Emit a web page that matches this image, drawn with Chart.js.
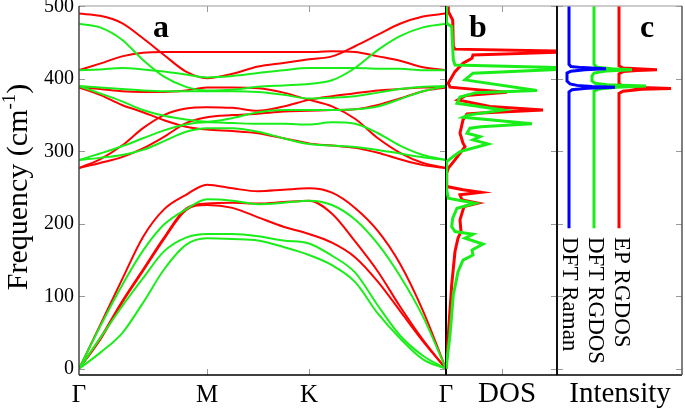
<!DOCTYPE html>
<html>
<head>
<meta charset="utf-8">
<script src="https://cdn.jsdelivr.net/npm/chart.js@4.4.1/dist/chart.umd.min.js"></script>
<style>
html,body{margin:0;padding:0;background:#fff;}
#wrap{position:relative;width:685px;height:410px;overflow:hidden;background:#fff;}
canvas{position:absolute;top:0;}
</style>
</head>
<body>
<div id="wrap">
<canvas id="ca" width="460" height="410" style="left:0px;width:460px;height:410px"></canvas>
<canvas id="cb" width="125" height="410" style="left:440px;width:125px;height:410px"></canvas>
<canvas id="cc" width="135" height="410" style="left:550px;width:135px;height:410px"></canvas>
</div>
<script>
// ---------- panel a: phonon dispersion ----------
const kLabels = ['Γ', 'M', 'K', 'Γ'];
const kPos = [0, 128, 230, 367];
const kPath = [0, 21, 43, 64, 85, 107, 128, 153.5, 179, 204.5, 230, 253, 276, 299, 321, 344, 367];
const freqTicks = [0, 100, 200, 300, 400, 500];

// DFT bands (green)
const dft1 = [0, 22, 49, 91, 137, 171, 180, 179, 177, 168, 157, 143, 120, 76, 42, 13, 0];
const dft2 = [0, 42, 86, 125, 162, 181, 186, 186, 183, 177, 173, 156, 133, 87, 46, 18, 0];
const dft3 = [0, 58, 115, 163, 199, 220, 234, 232, 227, 229, 232, 226, 206, 172, 128, 72, 0];
const dft4 = [288, 291, 295, 302, 314, 327, 332, 332, 327, 318, 310, 308, 306, 302, 297, 292, 288];
const dft5 = [288, 297, 307, 318, 329, 337, 340, 339, 338, 338, 337, 340, 338, 325, 308, 295, 288];
const dft6 = [390, 380, 369, 357, 349, 344, 341, 346, 354, 357, 357, 357, 358, 362, 372, 383, 390];
const dft7 = [390, 388, 386, 384, 383, 383, 383, 383, 382, 378, 373, 374, 376, 381, 386, 389, 390];
const dft8 = [412, 413, 415, 413, 410, 406, 402, 404, 408, 412, 415, 415, 415, 414, 414, 412, 412];
const dft9 = [476, 471, 454, 426, 403, 389, 384, 385, 389, 391, 393, 398, 415, 440, 459, 471, 476];

// EP bands (red)
const ep1 = [0, 40, 91, 135, 179, 219, 226, 222, 209, 196, 186, 174, 154, 120, 80, 38, 0];
const ep2 = [0, 42, 93, 137, 181, 221, 228, 229, 228, 230, 232, 214, 176, 134, 86, 40, 0];
const ep3 = [0, 60, 123, 182, 220, 240, 254, 249, 245, 247, 249, 243, 222, 190, 145, 80, 0];
const ep4 = [277, 289, 308, 332, 350, 359, 361, 360, 356, 362, 371, 376, 380, 384, 386, 388, 388];
const ep5 = [277, 284, 292, 304, 320, 339, 347, 350, 352, 355, 356, 357, 358, 364, 373, 383, 388];
const ep6 = [388, 378, 364, 354, 343, 334, 330, 328, 325, 318, 311, 308, 305, 298, 289, 281, 277];
const ep7 = [388, 386, 383, 382, 382, 384, 388, 388, 387, 381, 371, 362, 345, 318, 298, 284, 277];
const ep8 = [412, 421, 431, 436, 437, 437, 437, 437, 437, 437, 437, 438, 437, 431, 425, 416, 412];
const ep9 = [490, 487, 477, 456, 433, 410, 401, 407, 417, 422, 427, 431, 445, 461, 476, 486, 490];

// ---------- panel b: DOS ----------
const epDosFreq = [500, 493, 481, 445, 441, 438.5, 436.5, 433, 428.5, 421.6, 410, 394, 388.5, 384.8, 381.6, 377, 371, 361.8, 357.2, 353, 351.7, 343.4, 325, 311.3, 306.6, 288.3, 276.8, 270, 251.5, 247, 243.5, 240, 233, 228.5, 224, 214.8, 205.5, 189.4, 180.3, 161.8, 115.9, 46.9, 0];
const epDosVal  = [2, 2.3, 6.7, 7.3, 9, 109, 109, 27, 26, 17, 9, 2.3, 4, 34, 61, 20, 12, 44, 97, 35, 21, 17, 14, 17, 19, 9, 2.3, 0.7, 0.7, 17, 35, 14, 16, 32, 18, 16, 14, 15, 12, 9, 5.7, 2.3, 0];
const dftDosFreq = [500, 476.8, 472, 426, 419, 415.6, 413, 407.8, 398.6, 384, 381, 375, 366.4, 357, 350, 347, 338, 334, 332, 325, 320.4, 315.9, 310.3, 299.7, 292.8, 286, 260.7, 249, 235.4, 228.5, 221.6, 207.8, 196.3, 189.4, 185.7, 180.3, 172, 164, 157, 150, 134, 102, 47, 0];
const dftDosVal  = [0.5, 0.5, 5.7, 7.3, 9, 111, 111, 27, 19, 91, 30, 14, 11, 57, 22, 17, 86, 35, 24, 21, 34, 27, 42, 14, 7.3, 0.7, 0, 0.7, 2.3, 29, 11, 6.7, 5.7, 9, 27, 19, 37, 26, 27, 17, 12, 7.3, 4, 0];

// ---------- panel c: intensity spectra (offset baselines) ----------
const ramanFreq = [500, 420, 417, 415.5, 414, 412.5, 410.5, 408, 397, 393, 391, 389.5, 388.5, 387, 385, 382, 194];
const ramanVal  = [12, 12, 14, 25, 49, 28, 14, 10, 10, 13, 20, 35, 58, 30, 15, 12, 12];
const dftRgFreq = [500, 420, 416, 414, 412.5, 411, 408, 404, 397, 394, 392, 390, 388.5, 386, 383, 194];
const dftRgVal  = [37, 37, 40, 55, 75, 50, 37, 35, 35, 38, 50, 89, 60, 42, 37, 37];
const epRgFreq  = [500, 418, 415, 413.5, 412.5, 411.5, 410, 407, 393, 390, 388, 386.7, 385.5, 383, 380, 194];
const epRgVal   = [62, 62, 66, 85, 100, 80, 66, 62, 62, 66, 85, 114, 85, 66, 62, 62];
const legendNames = ['DFT Raman', 'DFT RGDOS', 'EP RGDOS'];

const RED = '#ff0000', GREEN = '#1aee1a', BLUE = '#0000ff';
const SERIF = '"Liberation Serif", "Times New Roman", serif';
const Y_MIN = -8.5, Y_MAX = 500.5;

const framePlugin = {
  id: 'frame',
  afterDatasetsDraw(chart, args, o) {
    const ctx = chart.ctx, a = chart.chartArea;
    const xs = chart.scales.x, ys = chart.scales.y;
    ctx.save();
    ctx.strokeStyle = o.tickColor || '#999';
    ctx.lineWidth = 1;
    const L = o.len || 6;
    const seg = (x1, y1, x2, y2) => { ctx.beginPath(); ctx.moveTo(x1, y1); ctx.lineTo(x2, y2); ctx.stroke(); };
    (o.yTicks || []).forEach(v => {
      const p = Math.round(ys.getPixelForValue(v)) + 0.5;
      if (o.yLeft) seg(a.left, p, a.left + L, p);
      if (o.yRight) seg(a.right - L, p, a.right, p);
    });
    (o.xTicks || []).forEach(v => {
      const p = Math.round(xs.getPixelForValue(v)) + 0.5;
      seg(p, a.top, p, a.top + L);
      seg(p, a.bottom - L, p, a.bottom);
    });
    const side = (s, x1, y1, x2, y2) => {
      if (!o[s]) return;
      ctx.strokeStyle = o[s].c; ctx.lineWidth = o[s].w;
      seg(x1, y1, x2, y2);
    };
    side('top', a.left, a.top, a.right, a.top);
    side('bottom', a.left, a.bottom, a.right, a.bottom);
    side('left', a.left, a.top, a.left, a.bottom);
    side('right', a.right, a.top, a.right, a.bottom);
    ctx.restore();
  }
};

const textPlugin = {
  id: 'texts',
  afterDraw(chart, args, o) {
    const ctx = chart.ctx;
    (o.items || []).forEach(it => {
      ctx.save();
      ctx.translate(it.x, it.y);
      if (it.rot) ctx.rotate(it.rot);
      ctx.fillStyle = '#000';
      ctx.textBaseline = it.baseline || 'alphabetic';
      ctx.textAlign = 'left';
      const parts = it.parts || [{ t: it.t, font: it.font, dy: 0 }];
      let total = 0;
      parts.forEach(p => { ctx.font = p.font; p.w = ctx.measureText(p.t).width; total += p.w; });
      let x0 = it.align === 'center' ? -total / 2 : (it.align === 'right' ? -total : 0);
      parts.forEach(p => { ctx.font = p.font; ctx.fillText(p.t, x0, p.dy || 0); x0 += p.w; });
      ctx.restore();
    });
  }
};

function band(vals, color) {
  return {
    data: kPath.map((k, i) => ({ x: k, y: vals[i] })),
    showLine: true, borderColor: color, borderWidth: 2, pointRadius: 0,
    cubicInterpolationMode: 'monotone', fill: false
  };
}
function curve(freqs, vals, color, w) {
  return {
    data: freqs.map((f, i) => ({ x: vals[i], y: f })),
    showLine: true, borderColor: color, borderWidth: w, pointRadius: 0,
    tension: 0, fill: false
  };
}
const hiddenY = { display: false, min: Y_MIN, max: Y_MAX };

// ---- chart a ----
new Chart(document.getElementById('ca'), {
  type: 'scatter',
  data: {
    datasets: [
      ...[dft1, dft2, dft3, dft4, dft5, dft6, dft7, dft8, dft9].map(b => band(b, GREEN)),
      ...[ep1, ep2, ep3, ep4, ep5, ep6, ep7, ep8, ep9].map(b => band(b, RED))
    ]
  },
  options: {
    responsive: false, animation: false, events: [],
    layout: { padding: { top: 6, right: 14, left: 0, bottom: 0 } },
    plugins: {
      legend: { display: false }, tooltip: { enabled: false },
      frame: {
        yTicks: freqTicks, yLeft: true, yRight: true, xTicks: [kPos[1], kPos[2]],
        top: { c: '#999', w: 1.2 }, bottom: { c: '#000', w: 1.5 },
        left: { c: '#444', w: 1.5 }, right: { c: '#000', w: 2 }
      },
      texts: {
        items: [
          { t: 'a', font: 'bold 32px ' + SERIF, x: 161, y: 37, align: 'center' },
          { x: 27, y: 187, rot: -Math.PI / 2, align: 'center', parts: [
            { t: 'Frequency (cm', font: '30px ' + SERIF, dy: 0 },
            { t: '-1', font: '19px ' + SERIF, dy: -12 },
            { t: ')', font: '30px ' + SERIF, dy: 0 }
          ] }
        ]
      }
    },
    scales: {
      x: {
        type: 'linear', min: kPos[0], max: kPos[3],
        grid: { display: false, drawTicks: false }, border: { display: false },
        afterBuildTicks: s => { s.ticks = kPos.map(v => ({ value: v })); },
        afterFit: s => { s.height = 35; s.paddingLeft = 0; s.paddingRight = 0; },
        ticks: {
          autoSkip: false, maxRotation: 0, padding: 5, color: '#000',
          font: { family: SERIF, size: 25 },
          callback: (v, i) => kLabels[i]
        }
      },
      y: {
        type: 'linear', min: Y_MIN, max: Y_MAX,
        grid: { display: false, drawTicks: false }, border: { display: false },
        afterBuildTicks: s => { s.ticks = freqTicks.map(v => ({ value: v })); },
        afterFit: s => { s.width = 79; s.paddingTop = 0; s.paddingBottom = 0; },
        ticks: { padding: 5, color: '#000', font: { family: SERIF, size: 20 } }
      }
    }
  },
  plugins: [framePlugin, textPlugin]
});

// ---- chart b ----
new Chart(document.getElementById('cb'), {
  type: 'scatter',
  data: {
    datasets: [
      curve(dftDosFreq, dftDosVal, GREEN, 3),
      curve(epDosFreq, epDosVal, RED, 3)
    ]
  },
  options: {
    responsive: false, animation: false, events: [],
    layout: { padding: { top: 6, right: 8, left: 6, bottom: 35 } },
    plugins: {
      legend: { display: false }, tooltip: { enabled: false },
      frame: {
        yTicks: freqTicks, yLeft: false, yRight: true, xTicks: [55.5],
        top: { c: '#999', w: 1.2 }, bottom: { c: '#000', w: 1.5 },
        right: { c: '#000', w: 1.5 }
      },
      texts: {
        items: [
          { t: 'b', font: 'bold 32px ' + SERIF, x: 38, y: 37, align: 'center' },
          { t: 'DOS', font: '29px ' + SERIF, x: 67, y: 402, align: 'center' }
        ]
      }
    },
    scales: {
      x: { display: false, type: 'linear', min: 0, max: 111 },
      y: hiddenY
    }
  },
  plugins: [framePlugin, textPlugin]
});

// ---- chart c ----
new Chart(document.getElementById('cc'), {
  type: 'scatter',
  data: {
    datasets: [
      curve(ramanFreq, ramanVal, BLUE, 3),
      curve(dftRgFreq, dftRgVal, GREEN, 3),
      curve(epRgFreq, epRgVal, RED, 3)
    ]
  },
  options: {
    responsive: false, animation: false, events: [],
    layout: { padding: { top: 6, right: 3, left: 7, bottom: 35 } },
    plugins: {
      legend: { display: false }, tooltip: { enabled: false },
      frame: {
        yTicks: freqTicks, yLeft: true, yRight: true,
        top: { c: '#999', w: 1.2 }, bottom: { c: '#000', w: 1.5 },
        left: { c: '#000', w: 1.5 }, right: { c: '#555', w: 1.5 }
      },
      texts: {
        items: [
          { t: 'c', font: 'bold 32px ' + SERIF, x: 97, y: 37, align: 'center' },
          { t: 'Intensity', font: '29px ' + SERIF, x: 70, y: 402, align: 'center' },
          { t: legendNames[0], font: '23px ' + SERIF, x: 19, y: 237, rot: Math.PI / 2, baseline: 'middle' },
          { t: legendNames[1], font: '23px ' + SERIF, x: 45, y: 237, rot: Math.PI / 2, baseline: 'middle' },
          { t: legendNames[2], font: '23px ' + SERIF, x: 71, y: 237, rot: Math.PI / 2, baseline: 'middle' }
        ]
      }
    },
    scales: {
      x: { display: false, type: 'linear', min: 0, max: 125 },
      y: hiddenY
    }
  },
  plugins: [framePlugin, textPlugin]
});
</script>
</body>
</html>
